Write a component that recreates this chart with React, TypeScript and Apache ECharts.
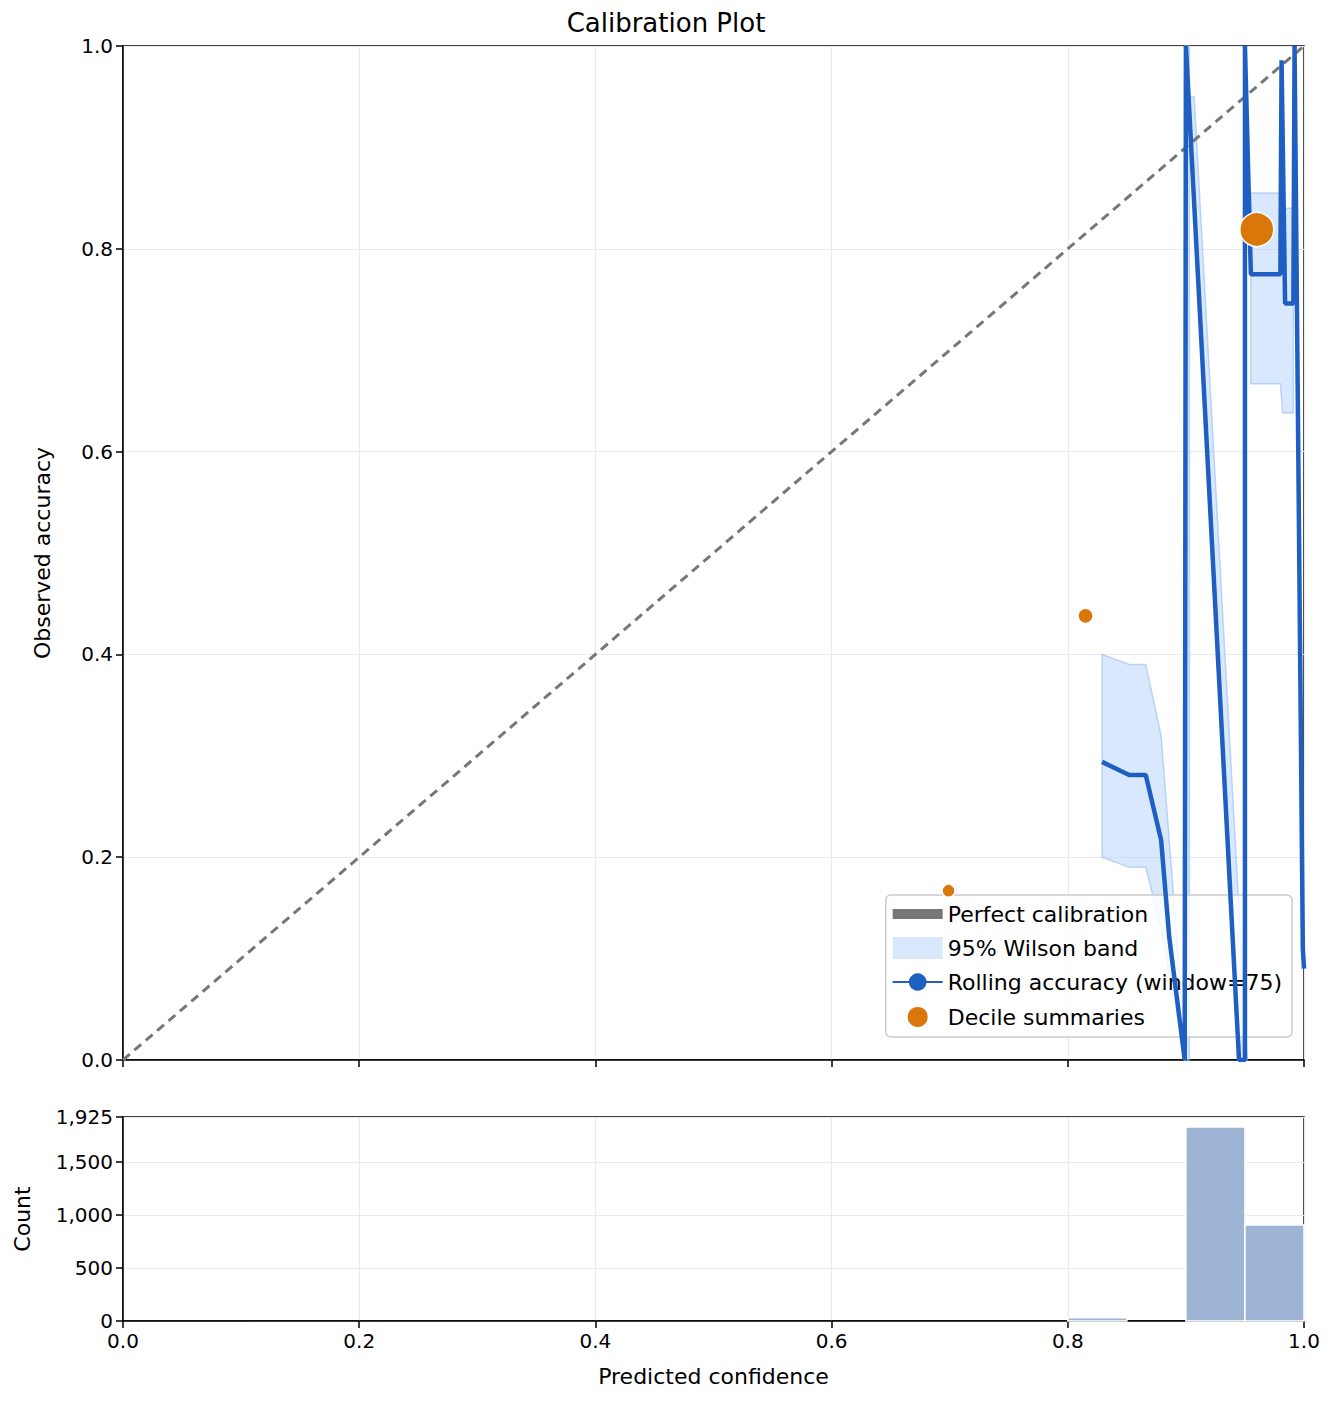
import React, { useEffect, useRef } from 'react';
import * as echarts from 'echarts';

const diagonal = [[0, 0], [1, 1]];
const rollingX = [0.829, 0.852, 0.866, 0.879, 0.886, 0.899, 0.900, 0.945, 0.950, 0.950, 0.955, 0.980, 0.981, 0.984, 0.991, 0.992, 0.999, 1.0];
const rollingY = [0.294, 0.281, 0.281, 0.217, 0.12, 0.0, 1.0, 0.0, 0.0, 1.0, 0.775, 0.775, 0.986, 0.746, 0.746, 1.0, 0.11, 0.09];
const bandX = [0.829, 0.852, 0.866, 0.879, 0.899, 0.903, 0.945, 0.955, 0.980, 0.982, 0.991];
const bandLow = [0.20, 0.19, 0.19, 0.13, 0.0, 0.88, 0.0, 0.667, 0.667, 0.638, 0.638];
const bandHigh = [0.40, 0.39, 0.39, 0.32, 0.02, 1.0, 0.05, 0.855, 0.855, 0.84, 0.84];
const decileX = [0.699, 0.815, 0.960];
const decileY = [0.167, 0.438, 0.819];
const decileSize = [13, 15, 34];
const binStart = [0.80, 0.90, 0.95];
const binCount = [30, 1830, 906];
const binWidth = 0.05;

const App: React.FC = () => {
  const ref = useRef<HTMLDivElement>(null);

  useEffect(() => {
    document.body.style.margin = '0';
    if (!ref.current) return;
    const chart = echarts.init(ref.current, null, { renderer: 'svg' });
    const font = 'DejaVu Sans';
    const axisCommon = {
      axisLine: { show: true, onZero: false, lineStyle: { color: '#000', width: 1.5 } },
      axisTick: { show: true, inside: false, length: 7, lineStyle: { color: '#000', width: 1.5 } },
      axisLabel: { color: '#000', fontSize: 20, fontFamily: font, margin: 10 },
      splitLine: { show: true, lineStyle: { color: '#ebebeb', width: 1.2 } },
    };
    // band polygons split into segments at gaps
    const bandSegments = [[0, 1, 2, 3, 4], [5], [6], [7, 8, 9, 10]];
    const option: any = {
      animation: false,
      title: {
        text: 'Calibration Plot', left: 'center', top: 5,
        textStyle: { fontSize: 26, fontWeight: 'normal', color: '#000', fontFamily: font },
      },
      legend: {
        orient: 'vertical', right: 40, top: 895, itemGap: 12, itemWidth: 50, itemHeight: 22,
        backgroundColor: 'rgba(255,255,255,0.8)', borderColor: '#ccc', borderWidth: 1.5, borderRadius: 5,
        padding: [8, 10, 8, 6],
        textStyle: { fontSize: 22, color: '#000', fontFamily: font },
        data: [
          { name: 'Perfect calibration', icon: 'path://M0,10 L10,10 L10,12 L0,12 Z', itemStyle: { color: '#777' } },
          { name: '95% Wilson band', icon: 'rect' },
          { name: 'Rolling accuracy (window=75)' },
          { name: 'Decile summaries', icon: 'circle' },
        ],
      },
      grid: [
        { left: 123, top: 46, width: 1181, height: 1014, show: true, borderColor: '#000', borderWidth: 1.5, backgroundColor: 'transparent' },
        { left: 123, top: 1117, width: 1181, height: 204, show: true, borderColor: '#000', borderWidth: 1.5, backgroundColor: 'transparent' },
      ],
      xAxis: [
        { ...axisCommon, type: 'value', gridIndex: 0, min: 0, max: 1, interval: 0.2, axisLabel: { show: false } },
        {
          ...axisCommon, type: 'value', gridIndex: 1, min: 0, max: 1, interval: 0.2,
          axisLabel: { ...axisCommon.axisLabel, formatter: (v: number) => v.toFixed(1) },
          name: 'Predicted confidence', nameLocation: 'middle', nameGap: 44,
          nameTextStyle: { fontSize: 22, color: '#000', fontFamily: font },
        },
      ],
      yAxis: [
        {
          ...axisCommon, type: 'value', gridIndex: 0, min: 0, max: 1, interval: 0.2,
          axisLabel: { ...axisCommon.axisLabel, formatter: (v: number) => v.toFixed(1) },
          name: 'Observed accuracy', nameLocation: 'middle', nameGap: 70,
          nameTextStyle: { fontSize: 22, color: '#000', fontFamily: font },
        },
        {
          ...axisCommon, type: 'value', gridIndex: 1, min: 0, max: 1925, interval: 500,
          name: 'Count', nameLocation: 'middle', nameGap: 90,
          nameTextStyle: { fontSize: 22, color: '#000', fontFamily: font },
        },
      ],
      series: [
        {
          name: 'Perfect calibration', type: 'line', xAxisIndex: 0, yAxisIndex: 0, data: diagonal,
          symbol: 'none', lineStyle: { color: '#777', width: 3, type: [9, 6] }, z: 3,
        },
        {
          name: '95% Wilson band', type: 'custom', xAxisIndex: 0, yAxisIndex: 0,
          itemStyle: { color: 'rgba(170,205,250,0.45)', borderColor: 'rgba(150,190,245,0.6)' },
          data: bandSegments.map((_, i) => [i]),
          renderItem: (params: any, api: any) => {
            const idx = bandSegments[params.dataIndex];
            let pts: number[][];
            if (idx.length === 1) {
              const i = idx[0];
              // diagonal sliver: follows the rolling line descent
              const x0 = bandX[i] - 0.003, x1 = bandX[i] + 0.003;
              pts = [api.coord([x0, bandHigh[i]]), api.coord([x1, bandHigh[i]]), api.coord([x1 + 0.045, bandLow[i]]), api.coord([x0 + 0.04, bandLow[i]])];
              if (bandLow[i] < 0.5) pts = [api.coord([0.903, 0.95]), api.coord([0.907, 0.95]), api.coord([0.952, 0.0]), api.coord([0.946, 0.0])];
              else pts = [api.coord([0.899, 1.0]), api.coord([0.903, 1.0]), api.coord([0.903, 0.0]), api.coord([0.899, 0.0])];
            } else {
              const top = idx.map((i) => api.coord([bandX[i], bandHigh[i]]));
              const bot = idx.slice().reverse().map((i) => api.coord([bandX[i], bandLow[i]]));
              pts = top.concat(bot);
            }
            return {
              type: 'polygon', shape: { points: pts },
              style: { fill: 'rgba(170,205,250,0.45)', stroke: 'rgba(150,190,245,0.6)', lineWidth: 1.5 },
            };
          },
          z: 2,
        },
        {
          name: 'Rolling accuracy (window=75)', type: 'line', xAxisIndex: 0, yAxisIndex: 0,
          data: rollingX.map((x, i) => [x, rollingY[i]]), symbol: 'none',
          lineStyle: { color: '#1f5fc1', width: 4.5 }, itemStyle: { color: '#1f5fc1' }, z: 4,
        },
        {
          name: 'Decile summaries', type: 'scatter', xAxisIndex: 0, yAxisIndex: 0,
          data: decileX.map((x, i) => [x, decileY[i], decileSize[i]]),
          symbolSize: (v: number[]) => v[2],
          itemStyle: { color: '#d9770b', borderColor: '#fff', borderWidth: 1.5, opacity: 1 }, z: 5,
        },
        {
          type: 'custom', xAxisIndex: 1, yAxisIndex: 1,
          data: binStart.map((x, i) => [x, binCount[i]]),
          renderItem: (_p: any, api: any) => {
            const x0 = api.value(0), c = api.value(1);
            const a = api.coord([x0, c]), b = api.coord([x0 + binWidth, 0]);
            return {
              type: 'rect', shape: { x: a[0], y: a[1], width: b[0] - a[0], height: b[1] - a[1] },
              style: { fill: '#9db4d4', stroke: '#fff', lineWidth: 1.5 },
            };
          },
        },
      ],
    };
    chart.setOption(option);
    return () => chart.dispose();
  }, []);

  return <div ref={ref} style={{ width: 1332, height: 1404 }} />;
};

export default App;
